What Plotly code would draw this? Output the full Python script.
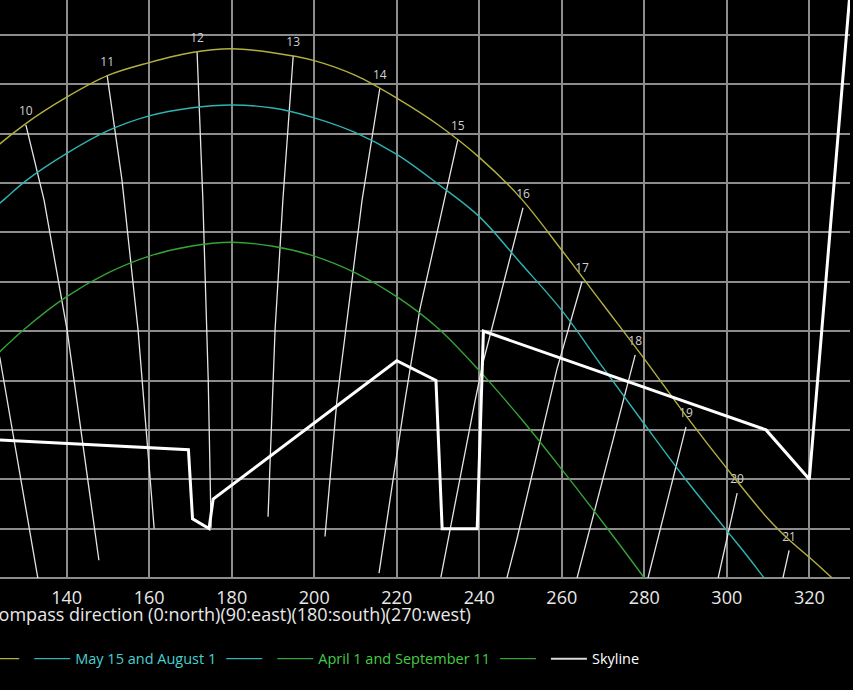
import plotly.graph_objects as go

# ---------------- data ----------------
# sun path, June 21
june_az = [110, 120, 130, 140, 150, 160, 170, 180, 190, 200, 210, 220, 230, 240,
           250, 260, 270, 280, 290, 300, 310, 315, 320, 325, 330]
june_el = [38.5, 42.6, 46.0, 48.7, 50.9, 52.2, 53.2, 53.6, 53.2, 52.4, 50.9, 48.6, 45.9, 42.6,
           38.5, 33.2, 27.7, 22.2, 16.5, 11.1, 6.0, 3.9, 2.1, 0.2, -1.7]

# sun path, May 15 and August 1
may_az = [120, 125, 130, 140, 150, 160, 170, 180, 190, 200, 210, 220, 230, 240,
          250, 260, 270, 280, 290, 300, 305, 310, 315]
may_el = [36.6, 38.4, 40.2, 43.0, 45.3, 46.8, 47.6, 47.9, 47.6, 46.6, 45.1, 42.9, 39.9, 36.6,
          31.9, 27.1, 21.3, 15.6, 10.0, 4.8, 2.2, -0.5, -3.0]

# sun path, April 1 and September 11
apr_az = [120, 130, 140, 150, 160, 170, 180, 190, 200, 210, 220, 230, 240, 250, 260, 270, 280, 285]
apr_el = [21.4, 25.3, 28.5, 30.9, 32.6, 33.6, 34.0, 33.6, 32.6, 30.9, 28.5, 25.3, 21.0, 16.2, 11.0, 5.6, 0.0, -3.0]

# skyline
sky_az = [100, 169.5, 170.5, 174.5, 175.5, 220, 229.5, 231, 239.5, 241, 309.5, 320, 330]
sky_el = [14.5, 13, 6, 5, 8, 22, 20, 5, 5, 25, 15, 10, 60]

# hour lines (solar position at a given clock hour across the season)
hours = [9, 10, 11, 12, 13, 14, 15, 16, 17, 18, 19, 20, 21]
hour_az = [
    [111.7, 123.8, 133.0],
    [130.1, 134.5, 140.1, 147.8],
    [149.8, 153.4, 157.3, 161.2],
    [171.6, 173.0, 174.3, 175.0],
    [194.9, 192.4, 190.5, 188.8],
    [215.9, 211.6, 205.5, 202.6],
    [234.8, 225.6, 222.0, 215.7],
    [250.6, 240.9, 239.0, 230.7],
    [264.9, 258.8, 249.1, 246.7],
    [277.8, 263.7],
    [290.1, 280.9],
    [302.5, 297.9],
    [315.1, 313.6],
]
hour_el = [
    [38.8, 22.3, 0.0],
    [45.9, 38.3, 25.1, 1.8],
    [50.9, 40.3, 25.1, 5.0],
    [53.3, 38.3, 20.1, 5.1],
    [52.9, 38.3, 25.1, 6.2],
    [49.6, 38.3, 18.0, 4.2],
    [44.4, 27.2, 18.0, 0.5],
    [37.5, 21.8, 18.0, 0.1],
    [30.0, 21.1, 3.9, 0.0],
    [22.6, 0.0],
    [15.3, 0.0],
    [8.6, 0.0],
    [2.8, 0.0],
]

x_ticks = [140, 160, 180, 200, 220, 240, 260, 280, 300, 320]
x_title = "compass direction (0:north)(90:east)(180:south)(270:west)"

# ---------------- styling ----------------
FONT = "Open Sans"
YELLOW = "#b4b040"
CYAN = "#2fb3b3"
GREEN = "#36a336"
CYAN_TXT = "#45d2d2"
GREEN_TXT = "#44cc44"
GRID = "#8d8d8d"

fig = go.Figure()

for h, xs, ys in zip(hours, hour_az, hour_el):
    n = len(xs)
    fig.add_trace(go.Scatter(
        x=xs, y=ys, mode="lines+markers+text",
        text=[str(h)] + [""] * (n - 1),
        textposition="top center",
        textfont=dict(family=FONT, size=12, color="#d0d0d0"),
        marker=dict(size=[9] + [0] * (n - 1), color="rgba(0,0,0,0)",
                    line=dict(width=0, color="rgba(0,0,0,0)")),
        line=dict(color="#e4e4e4", width=1.3),
        showlegend=False, hoverinfo="skip"))

def legend_name(txt, col):
    return f"<span style='color:{col}'>{txt}</span>"

fig.add_trace(go.Scatter(x=june_az, y=june_el, mode="lines", line=dict(color=YELLOW, width=1.4, shape="spline"),
                         name=legend_name("June 21", YELLOW)))
fig.add_trace(go.Scatter(x=[None], y=[None], mode="lines", line=dict(color=YELLOW, width=1.4), name=""))
fig.add_trace(go.Scatter(x=may_az, y=may_el, mode="lines", line=dict(color=CYAN, width=1.4, shape="spline"),
                         name=legend_name("May 15 and August 1", CYAN_TXT)))
fig.add_trace(go.Scatter(x=[None], y=[None], mode="lines", line=dict(color=CYAN, width=1.4), name=""))
fig.add_trace(go.Scatter(x=apr_az, y=apr_el, mode="lines", line=dict(color=GREEN, width=1.4, shape="spline"),
                         name=legend_name("April 1 and September 11", GREEN_TXT)))
fig.add_trace(go.Scatter(x=[None], y=[None], mode="lines", line=dict(color=GREEN, width=1.4), name=""))
fig.add_trace(go.Scatter(x=sky_az, y=sky_el, mode="lines", line=dict(color="white", width=3),
                         name="Skyline", showlegend=False))
fig.add_trace(go.Scatter(x=[None], y=[None], mode="lines", line=dict(color="#d8d8d8", width=2),
                         name=legend_name("Skyline", "white")))

fig.add_annotation(text=x_title, xref="paper", yref="paper", x=0.271, y=-0.063,
                   xanchor="center", yanchor="middle", showarrow=False,
                   font=dict(family=FONT, size=18, color="#e8e8e8"))

fig.update_layout(
    width=853, height=690,
    margin=dict(l=0, r=3, t=0, b=112, autoexpand=False),
    paper_bgcolor="black", plot_bgcolor="black",
    font=dict(family=FONT, color="#e8e8e8"),
    showlegend=True,
    legend=dict(orientation="h", x=-0.147, xanchor="left", y=-0.112, yanchor="top",
                font=dict(family=FONT, size=14.5, color="white"), bgcolor="rgba(0,0,0,0)",
                itemwidth=36),
    xaxis=dict(range=[123.83, 329.86], tickmode="array", tickvals=x_ticks,
               ticktext=[str(t) for t in x_ticks], showgrid=True, gridcolor=GRID, gridwidth=1.5,
               zeroline=False, showline=False, ticks="", ticklabelstandoff=7,
               tickfont=dict(family=FONT, size=18, color="#e8e8e8")),
    yaxis=dict(range=[0, 58.54], dtick=5, showgrid=True, gridcolor=GRID, gridwidth=1.5,
               zeroline=True, zerolinecolor=GRID, zerolinewidth=1.5, showline=False, ticks="",
               showticklabels=False),
)

fig.write_html("out.html", config={"displayModeBar": False},
               post_script="document.body.style.margin='0';document.body.style.background='black';")
